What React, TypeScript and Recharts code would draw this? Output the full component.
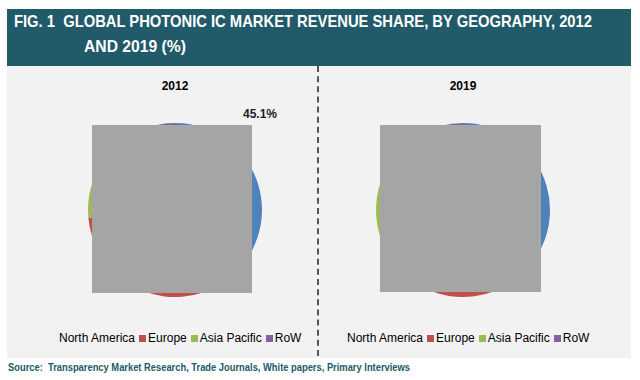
import React from "react";
import { PieChart, Pie, Cell } from "recharts";

const regions = ["North America", "Europe", "Asia Pacific", "RoW"];
const values2012 = [45.1, 28.5, 23.5, 2.9];
const values2019 = [41.0, 27.5, 27.5, 4.0];
const years = ["2012", "2019"];
const colors = ["#4f81bd", "#c0504d", "#9bbb59", "#8064a2"];
const titleLine1 = "FIG. 1  GLOBAL PHOTONIC IC MARKET REVENUE SHARE, BY GEOGRAPHY, 2012";
const titleLine2 = "AND 2019 (%)";
const sourceText = "Source:  Transparency Market Research, Trade Journals, White papers, Primary Interviews";
const annotation = "45.1%";

const data2012 = regions.map((name, i) => ({ name, value: values2012[i] }));
const data2019 = regions.map((name, i) => ({ name, value: values2019[i] }));

const sans = '"Liberation Sans", Arial, sans-serif';

function Legend({ left }: { left: number }) {
  return (
    <div
      style={{
        position: "absolute",
        left,
        top: 330,
        fontFamily: sans,
        fontSize: 12,
        color: "#000",
        whiteSpace: "nowrap",
        display: "flex",
        alignItems: "center",
        lineHeight: "16px",
      }}
    >
      {regions.map((r, i) => (
        <span key={r} style={{ display: "inline-flex", alignItems: "center" }}>
          {i > 0 && (
            <span
              style={{
                display: "inline-block",
                width: 7,
                height: 7,
                background: colors[i],
                marginLeft: 4,
                marginRight: 2,
              }}
            />
          )}
          {r}
        </span>
      ))}
    </div>
  );
}

export default function App() {
  return (
    <div style={{ position: "absolute", left: 0, top: 0, width: 640, height: 380, background: "#fff", overflow: "hidden" }}>
      <div style={{ position: "absolute", left: 7, top: 9, width: 624, height: 57, background: "#215a69" }} />
      <div style={{ position: "absolute", left: 7, top: 66, width: 624, height: 292, background: "#f2f2f2" }} />
      <div
        style={{
          position: "absolute",
          left: 317,
          top: 66,
          width: 0,
          height: 290,
          borderLeft: "2px dashed #555",
        }}
      />
      <div style={{ position: "absolute", left: 0, top: 0 }}>
        <PieChart width={640} height={380} margin={{ top: 0, right: 0, bottom: 0, left: 0 }}>
          <Pie
            data={data2012}
            dataKey="value"
            nameKey="name"
            cx={175}
            cy={210}
            outerRadius={87}
            startAngle={90}
            endAngle={-270}
            stroke="none"
            isAnimationActive={false}
          >
            {data2012.map((d, i) => (
              <Cell key={d.name} fill={colors[i]} />
            ))}
          </Pie>
          <Pie
            data={data2019}
            dataKey="value"
            nameKey="name"
            cx={463}
            cy={210}
            outerRadius={87}
            startAngle={90}
            endAngle={-270}
            stroke="none"
            isAnimationActive={false}
          >
            {data2019.map((d, i) => (
              <Cell key={d.name} fill={colors[i]} />
            ))}
          </Pie>
        </PieChart>
      </div>
      <div style={{ position: "absolute", left: 92, top: 125, width: 160, height: 168, background: "#a5a5a5" }} />
      <div style={{ position: "absolute", left: 380, top: 125, width: 161, height: 167, background: "#a5a5a5" }} />
      <svg width={640} height={380} style={{ position: "absolute", left: 0, top: 0 }}>
        <text
          x={14}
          y={27}
          fill="#fff"
          fontFamily={sans}
          fontWeight="bold"
          fontSize={17}
          textLength={578}
          lengthAdjust="spacingAndGlyphs"
          style={{ whiteSpace: "pre" }}
        >
          {titleLine1}
        </text>
        <text
          x={84}
          y={52}
          fill="#fff"
          fontFamily={sans}
          fontWeight="bold"
          fontSize={17}
          textLength={102}
          lengthAdjust="spacingAndGlyphs"
        >
          {titleLine2}
        </text>
        {years.map((y, i) => (
          <text
            key={y}
            x={i === 0 ? 175 : 463}
            y={90}
            textAnchor="middle"
            fill="#000"
            fontFamily={sans}
            fontWeight="bold"
            fontSize={12}
          >
            {y}
          </text>
        ))}
        <text x={243} y={118} fill="#222" fontFamily={sans} fontWeight="bold" fontSize={12}>
          {annotation}
        </text>
        <text
          x={8}
          y={371}
          fill="#215a69"
          fontFamily={sans}
          fontWeight="bold"
          fontSize={11}
          textLength={402}
          lengthAdjust="spacingAndGlyphs"
          style={{ whiteSpace: "pre" }}
        >
          {sourceText}
        </text>
      </svg>
      <Legend left={59} />
      <Legend left={347} />
    </div>
  );
}
